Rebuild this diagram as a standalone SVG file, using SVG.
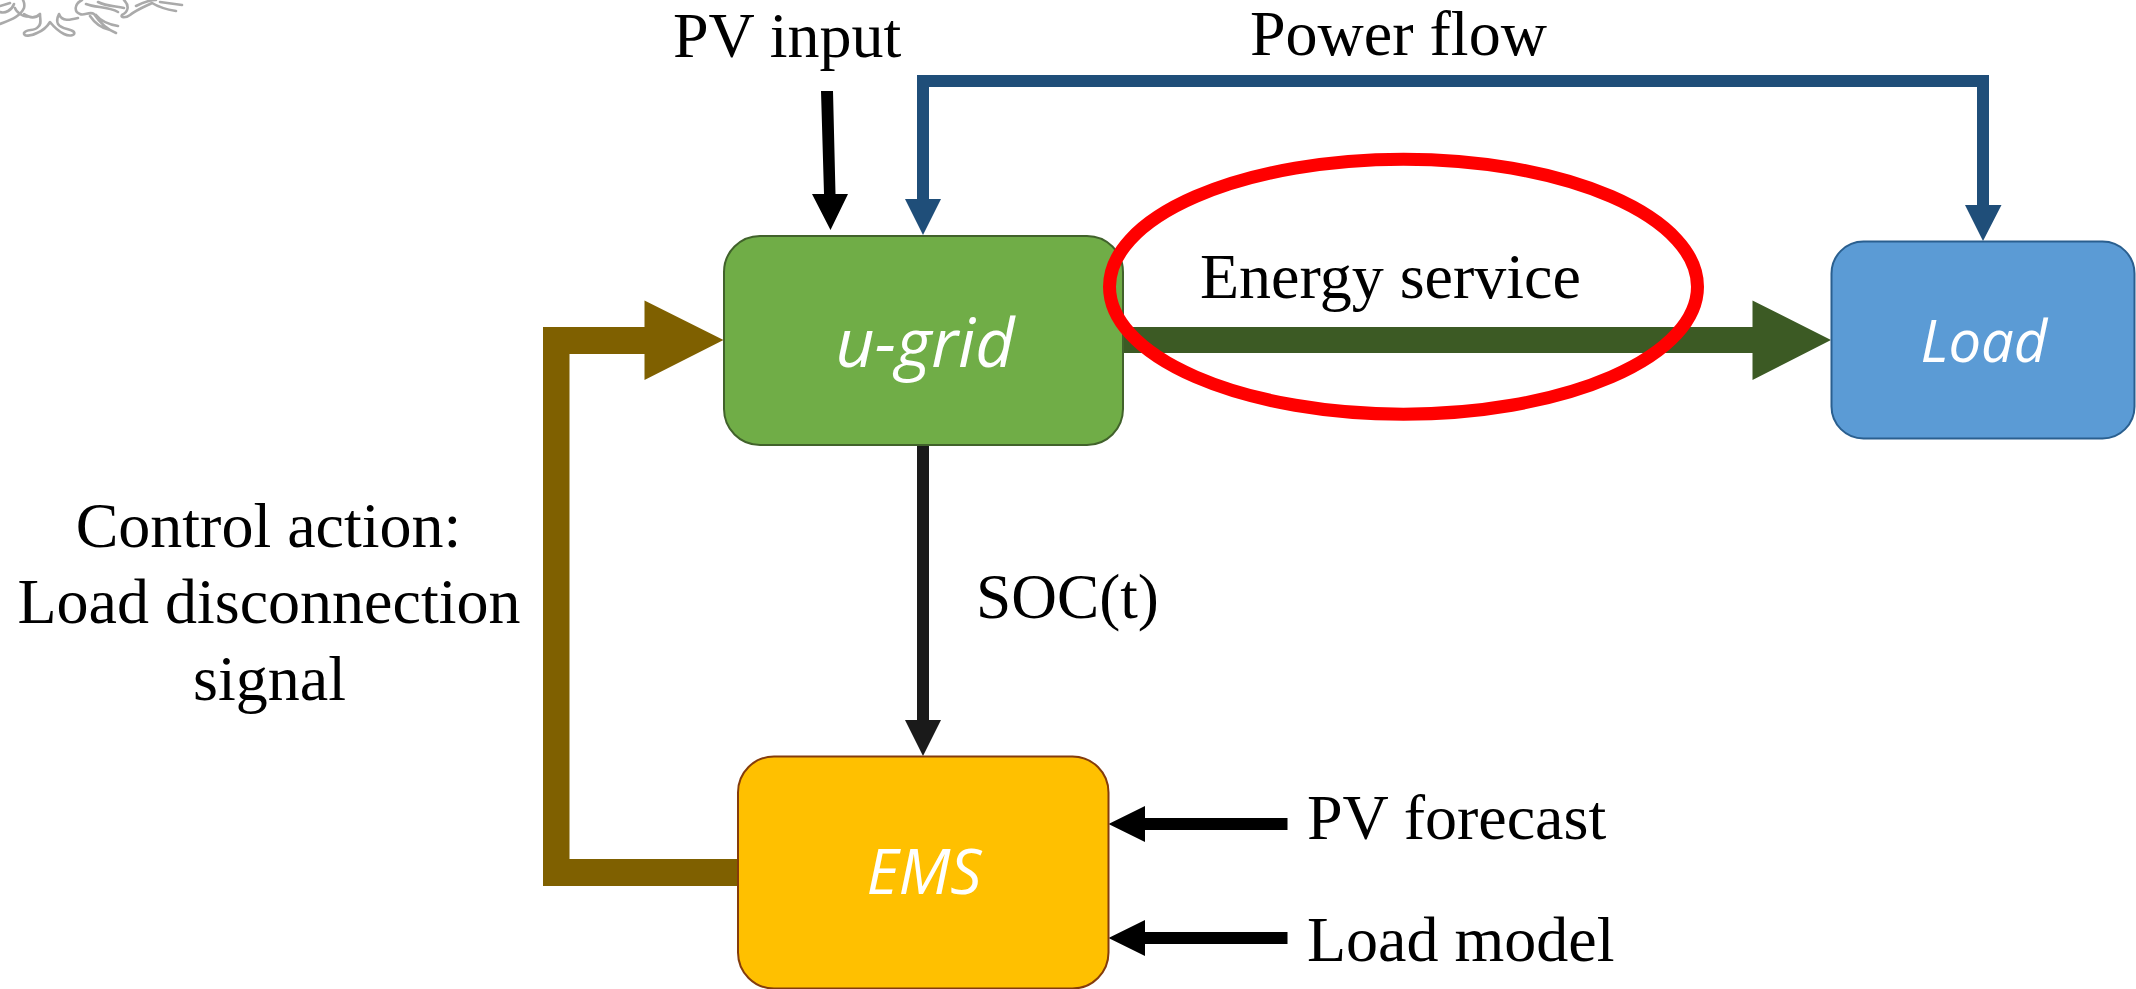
<svg xmlns="http://www.w3.org/2000/svg" width="2136" height="989" viewBox="0 0 2136 989">
<style>
.t{font-family:"Liberation Serif","Times New Roman",serif;font-size:64px;fill:#000}
.n{font-family:"Open Sans","Noto Sans",sans-serif;font-style:italic;font-size:58px;fill:#fff;text-anchor:middle}
.w{fill:none;stroke:#aaa;stroke-width:2.6;stroke-linejoin:round;stroke-linecap:round}
</style>
<rect width="2136" height="989" fill="#fff"/>
<g id="watermark" class="w">
<path d="M0 24C10 20 20 17 24 8C25 4 24 2 23 0M28 16C24 18 16 12 15 8M0 12C5 14 12 10 14 4M0 6L10 3"/>
<path d="M24 14C28 17 34 20 40 14C40 20 42 24 38 27C34 32 27 28 24 33C23 36 30 37 37 33C42 31 47 27 50 22C54 27 58 31 64 34C70 37 76 35 74 32C70 28 62 30 58 24C56 20 58 16 59 14C62 22 70 20 78 18"/>
<path d="M82 0C74 4 74 12 80 14C84 16 90 11 94 14C98 20 104 28 116 33M90 16C94 22 100 28 110 30M96 15C100 20 106 24 118 26M86 4C96 8 108 6 118 12M98 2C106 6 114 6 124 8M124 0C130 6 128 12 122 15C120 18 126 18 130 15C136 10 146 6 152 3C160 8 170 10 176 11M136 6C144 2 150 0 156 0M160 2L182 5"/>
</g>
<g id="connectors">
<path fill="#1f4e79" d="M917 199V75H1989V205H2001.500L1983 241L1965 205H1977V87H929V199H941L923 235L905 199Z"/>
<path fill="#000" d="M821 91H833L835.500 194H848L830.500 230L812 194H824Z"/>
<path fill="#3c5a24" d="M1123 327H1752.500V300.500L1831 340L1752.500 380V353H1123Z"/>
<path fill="#7f6000" d="M737.500 859H569.500V354H644.500V380L723.500 340L644.500 300.500V327H543V886H737.500Z"/>
<path fill="#1a1a1a" d="M917 445H929V720H941L923 756L905 720H917Z"/>
<path fill="#000" d="M1108.500 824L1145 806V818H1287.500V830H1145V842Z"/>
<path fill="#000" d="M1108.500 938L1145 920V932H1287.500V944H1145V956Z"/>
</g>
<g id="u-grid">
<rect x="724" y="236" width="399" height="209" rx="36" fill="#70ad47" stroke="#41622b" stroke-width="2"/>
<text class="n" x="925" y="367" style="font-size:68px">u-grid</text>
</g>
<g id="load">
<rect x="1831.500" y="241.500" width="303" height="197" rx="32" fill="#5b9bd5" stroke="#2a5f8f" stroke-width="2"/>
<text class="n" x="1984" y="362">Load</text>
</g>
<g id="ems">
<rect x="738" y="756.500" width="370.500" height="232" rx="36" fill="#ffc000" stroke="#843c0c" stroke-width="2"/>
<text class="n" x="924" y="894" style="font-size:62px">EMS</text>
</g>
<ellipse id="highlight" cx="1403.500" cy="286.700" rx="294" ry="127.500" fill="none" stroke="#ff0000" stroke-width="13"/>
<g id="labels">
<text class="t" x="673" y="57">PV input</text>
<text class="t" x="1250" y="55">Power flow</text>
<text class="t" x="1200" y="298">Energy service</text>
<text class="t" x="976" y="618" style="font-size:63.300px">SOC(t)</text>
<text class="t" x="268.500" y="547" text-anchor="middle">Control action:</text>
<text class="t" x="269" y="623" text-anchor="middle">Load disconnection</text>
<text class="t" x="269.500" y="700" text-anchor="middle">signal</text>
<text class="t" x="1307" y="839">PV forecast</text>
<text class="t" x="1307" y="961">Load model</text>
</g>
</svg>
